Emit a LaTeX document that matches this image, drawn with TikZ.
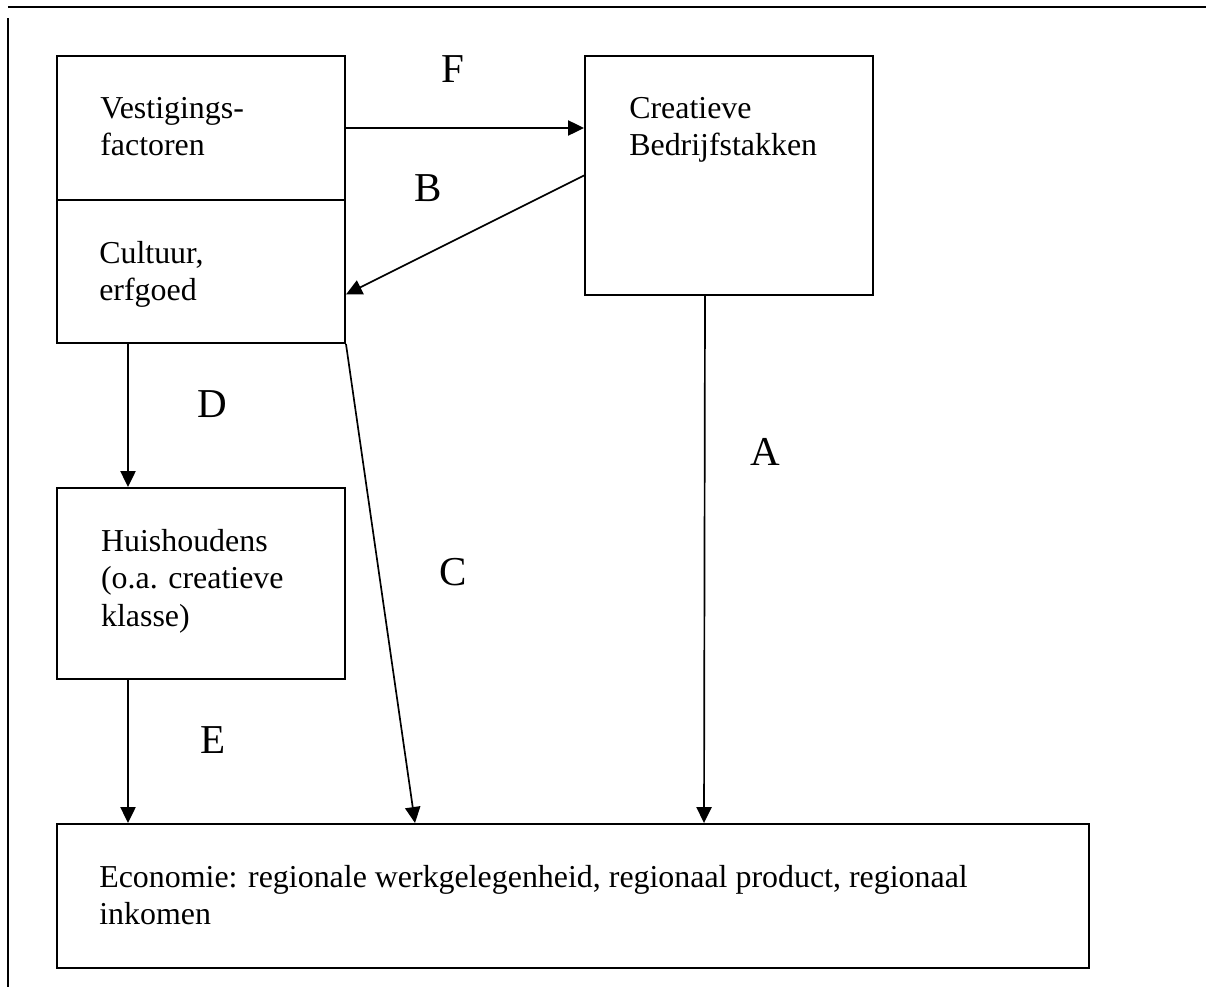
\documentclass[tikz,border=0pt]{standalone}
\usepackage{fontspec}
\setmainfont{Liberation Serif}
\usetikzlibrary{positioning,arrows.meta}
\tikzset{
	box/.style={draw, line width=1.4pt, rectangle, inner sep=0pt, minimum width=7.2cm},
	txt/.style={inner sep=0pt, anchor=north west, align=left, font=\fontsize{22.7}{26.4}\selectfont},
	lbl/.style={inner sep=0pt, font=\fontsize{29.2}{34}\selectfont},
	arr/.style={line width=1.2pt, -{Triangle[length=0.4cm,width=0.38cm]}}
}
\begin{document}
\begin{tikzpicture}
	\useasboundingbox (0,0) rectangle (30.15,-24.675);
	\draw[line width=2pt] (0.2,-0.175) -- (30.15,-0.175);
	\draw[line width=1.4pt] (0.19,-0.45) -- (0.19,-24.675);
	\node[box, minimum height=3.6cm] (vest) at (5.025,-3.2) {};
	\node[box, minimum height=3.575cm, below=-1.4pt of vest] (cult) {};
	\node[box, minimum height=5.975cm] (crea) at (18.225,-4.3875) {};
	\node[box, minimum height=4.775cm] (huis) at (5.025,-14.5875) {};
	\node[box, minimum width=25.8cm, minimum height=3.6cm] (econ) at (14.325,-22.4) {};
	\node[txt, below right=1.04cm and 1.1cm of vest.north west] (vesttxt) {Vestigings-\\factoren};
	\node[txt, below right=1.04cm and 1.075cm of cult.north west] (culttxt) {Cultuur,\\erfgoed};
	\node[txt, below right=1.06cm and 1.125cm of crea.north west] (creatxt) {Creatieve\\Bedrijfstakken};
	\node[txt, below right=1.06cm and 1.12cm of huis.north west] (huistxt) {Huishoudens\\(o.a. creatieve\\klasse)};
	\node[txt, below right=1.05cm and 1.075cm of econ.north west] (econtxt) {Economie: regionale werkgelegenheid, regionaal product, regionaal\\inkomen};
	\draw[arr] (vest.east) -- (vest.east -| crea.west);
	\draw[arr] (crea.west) -- (cult.-9.5);
	\draw[arr] ([xshift=1.8cm]cult.south west) -- ([xshift=1.8cm]huis.north west);
	\draw[arr] ([xshift=1.8cm]huis.south west) -- ([xshift=1.8cm]econ.north west);
	\draw[arr] (cult.south east) -- ([xshift=8.975cm]econ.north west);
	\draw[arr] ([xshift=-0.6cm]crea.south) -- ([xshift=16.2cm]econ.north west);
	\node[lbl] (F) at (11.325,-1.725) {F};
	\node[lbl] (B) at (10.7,-4.7) {B};
	\node[lbl] (D) at (5.3,-10.1) {D};
	\node[lbl] (C) at (11.325,-14.3) {C};
	\node[lbl] (A) at (19.125,-11.3) {A};
	\node[lbl] (E) at (5.325,-18.5) {E};
\end{tikzpicture}
\end{document}
